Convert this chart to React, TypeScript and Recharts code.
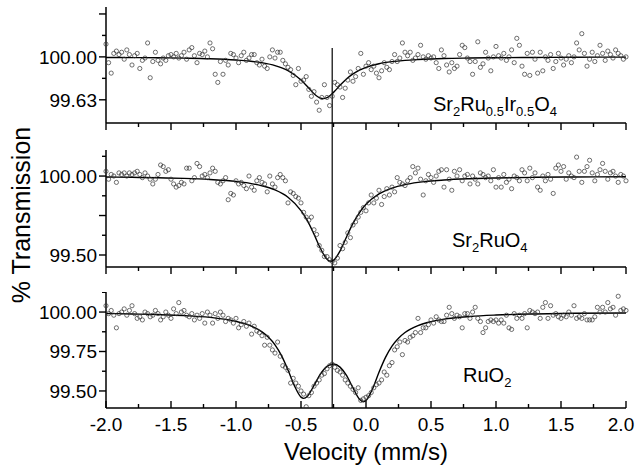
import { ComposedChart, Line, ReferenceLine, Scatter, XAxis, YAxis } from "recharts";

// velocity channels: -2.00 .. 2.00 mm/s, 0.02 mm/s apart
const channelStart = -2;
const channelStep = 0.02;

const velocityTicks = [-2, -1.75, -1.5, -1.25, -1, -0.75, -0.5, -0.25, 0, 0.25, 0.5, 0.75, 1, 1.25, 1.5, 1.75, 2];
const isomerShift = -0.26;

// Sr2Ru0.5Ir0.5O4
const ruIrPoints = [
  100.11, 99.95, 99.86, 100.03, 100.05, 100.02, 100.04, 99.98, 100.06, 100.02,
  99.93, 100.01, 100.03, 99.90, 99.97, 99.99, 100.12, 99.82, 99.96, 100.04,
  99.97, 99.94, 99.99, 99.97, 100.01, 100.02, 100.00, 100.03, 99.99, 100.01,
  100.04, 99.98, 100.06, 100.08, 100.01, 99.95, 100.03, 100.02, 100.05, 100.00,
  100.12, 100.07, 99.85, 99.78, 99.96, 99.85, 99.97, 99.93, 100.03, 100.02,
  99.99, 99.95, 100.01, 100.04, 99.97, 99.99, 100.02, 100.02, 99.95, 99.93,
  99.98, 99.92, 99.90, 100.00, 100.06, 99.99, 100.04, 100.04, 99.97, 99.94,
  99.91, 99.89, 99.84, 99.76, 99.90, 99.79, 99.80, 99.83, 99.72, 99.66,
  99.70, 99.61, 99.54, 99.65, 99.76, 99.65, 99.58, 99.66, 99.78, 99.76,
  99.74, 99.65, 99.73, 99.80, 99.87, 99.79, 99.83, 99.90, 100.03, 99.85,
  99.92, 99.95, 99.89, 99.92, 99.86, 99.82, 99.88, 99.95, 99.91, 99.89,
  99.96, 100.02, 99.96, 99.99, 100.12, 100.04, 100.01, 100.04, 99.97, 99.99,
  100.02, 100.10, 100.00, 99.98, 100.01, 99.99, 100.00, 99.95, 99.90, 100.06,
  100.01, 99.93, 99.87, 99.95, 99.90, 99.92, 100.02, 100.10, 100.08, 99.99,
  99.96, 99.85, 99.96, 100.13, 99.91, 99.94, 100.04, 99.99, 99.88, 100.00,
  100.09, 100.01, 99.99, 100.03, 99.97, 100.00, 100.06, 99.95, 100.16, 100.10,
  99.92, 99.85, 100.03, 99.84, 100.04, 99.98, 99.86, 100.04, 99.88, 100.00,
  99.97, 100.02, 99.90, 99.96, 100.03, 99.99, 99.93, 99.98, 100.01, 99.95,
  100.00, 100.12, 100.06, 100.20, 100.03, 99.92, 99.98, 100.04, 99.96, 100.01,
  100.10, 100.03, 99.97, 100.05, 100.02, 99.99, 100.06, 100.03, 100.01, 99.98,
  100.00,
];
const ruIrFitV = [-2, -1.8, -1.6, -1.4, -1.2, -1, -0.9, -0.8, -0.7, -0.6, -0.5, -0.45, -0.4, -0.35, -0.33, -0.3, -0.25, -0.2, -0.15, -0.1, -0.05, 0, 0.1, 0.2, 0.3, 0.4, 0.6, 0.8, 1, 1.3, 1.6, 2];
const ruIrFitT = [99.995, 99.994, 99.992, 99.989, 99.984, 99.973, 99.964, 99.949, 99.925, 99.881, 99.8, 99.743, 99.683, 99.644, 99.64, 99.649, 99.694, 99.755, 99.81, 99.854, 99.886, 99.91, 99.941, 99.959, 99.97, 99.977, 99.986, 99.99, 99.993, 99.995, 99.997, 99.998];

// Sr2RuO4
const sr2RuPoints = [
  100.03, 99.98, 100.01, 100.00, 99.96, 100.02, 100.01, 100.02, 100.00, 100.02,
  100.01, 100.02, 100.03, 100.01, 99.99, 100.02, 100.00, 99.98, 99.95, 99.98,
  100.01, 100.07, 100.06, 100.03, 100.04, 99.98, 99.95, 99.93, 99.94, 99.96,
  99.95, 100.05, 100.05, 99.97, 99.99, 100.08, 100.06, 100.00, 100.01, 99.99,
  100.02, 100.05, 100.03, 99.96, 99.95, 99.97, 99.99, 99.85, 99.89, 99.88,
  99.97, 99.95, 99.96, 99.94, 99.92, 100.00, 99.93, 99.91, 99.97, 99.99,
  99.96, 99.95, 99.90, 100.00, 99.95, 99.93, 99.99, 100.01, 99.99, 99.97,
  99.83, 99.90, 99.89, 99.87, 99.86, 99.83, 99.77, 99.74, 99.72, 99.74,
  99.66, 99.63, 99.56, 99.53, 99.49, 99.49, 99.47, 99.46, 99.45, 99.48,
  99.56, 99.54, 99.58, 99.64, 99.61, 99.69, 99.71, 99.74, 99.77, 99.80,
  99.78, 99.83, 99.88, 99.83, 99.86, 99.91, 99.82, 99.87, 99.92, 99.88,
  99.93, 99.90, 99.99, 99.96, 99.95, 99.94, 99.97, 99.99, 100.06, 100.02,
  100.05, 99.98, 99.88, 99.97, 100.01, 99.99, 99.96, 100.00, 100.03, 100.04,
  99.93, 100.04, 99.98, 99.91, 100.03, 100.00, 100.04, 99.97, 100.00, 100.01,
  99.95, 100.00, 99.98, 99.95, 100.02, 100.01, 99.99, 100.00, 99.97, 100.04,
  99.93, 99.99, 99.93, 100.01, 99.96, 99.98, 99.92, 100.00, 99.99, 99.97,
  100.04, 100.02, 99.97, 100.05, 99.99, 100.02, 99.93, 99.91, 100.00, 99.97,
  100.01, 99.98, 99.89, 100.05, 100.07, 100.03, 100.06, 99.98, 100.02, 100.00,
  99.99, 100.12, 100.03, 99.96, 100.03, 100.06, 100.10, 100.02, 99.97, 100.01,
  100.04, 100.08, 100.03, 99.98, 100.02, 100.03, 100.00, 99.96, 100.01, 100.00,
  99.97,
];
const sr2RuFitV = [-2, -1.8, -1.6, -1.4, -1.2, -1, -0.9, -0.8, -0.7, -0.6, -0.5, -0.45, -0.4, -0.35, -0.3, -0.27, -0.25, -0.2, -0.15, -0.1, -0.05, 0, 0.1, 0.2, 0.3, 0.4, 0.6, 0.8, 1, 1.3, 1.6, 2];
const sr2RuFitT = [99.994, 99.992, 99.989, 99.985, 99.978, 99.966, 99.955, 99.938, 99.912, 99.866, 99.781, 99.716, 99.632, 99.541, 99.473, 99.46, 99.466, 99.525, 99.614, 99.7, 99.769, 99.821, 99.887, 99.924, 99.946, 99.96, 99.975, 99.983, 99.988, 99.992, 99.994, 99.996];

// RuO2
const ruO2Points = [
  100.04, 99.99, 100.01, 99.98, 99.90, 99.99, 100.00, 100.02, 99.98, 100.01,
  100.04, 99.99, 99.96, 99.97, 99.95, 100.00, 99.99, 99.97, 99.98, 100.01,
  99.99, 99.95, 99.97, 100.00, 99.98, 99.96, 100.02, 99.99, 100.06, 100.00,
  100.01, 99.98, 99.97, 99.99, 99.95, 99.98, 99.96, 99.99, 99.93, 100.00,
  99.98, 99.93, 99.99, 99.96, 100.00, 99.98, 99.94, 99.96, 99.95, 99.93,
  99.96, 99.90, 99.92, 99.94, 99.91, 99.93, 99.86, 99.91, 99.88, 99.87,
  99.85, 99.79, 99.84, 99.79, 99.76, 99.74, 99.81, 99.72, 99.66, 99.65,
  99.63, 99.55, 99.58, 99.55, 99.53, 99.50, 99.48, 99.40, 99.47, 99.49,
  99.53, 99.55, 99.57, 99.60, 99.61, 99.64, 99.66, 99.67, 99.65, 99.63,
  99.62, 99.60, 99.57, 99.55, 99.53, 99.51, 99.49, 99.52, 99.44, 99.45,
  99.46, 99.47, 99.49, 99.52, 99.54, 99.55, 99.57, 99.62, 99.60, 99.66,
  99.68, 99.76, 99.78, 99.81, 99.73, 99.82, 99.81, 99.84, 99.85, 99.87,
  99.96, 99.87, 99.90, 99.90, 99.92, 99.95, 99.93, 99.97, 99.95, 99.94,
  99.94, 99.98, 100.03, 99.99, 99.96, 99.98, 99.97, 99.90, 99.99, 99.99,
  99.96, 100.00, 100.03, 99.96, 99.94, 99.87, 99.90, 99.94, 99.95, 99.94,
  99.95, 99.93, 99.95, 99.93, 99.98, 99.90, 99.89, 99.99, 99.96, 99.98,
  99.96, 99.99, 99.90, 100.01, 100.00, 99.99, 100.00, 99.96, 100.03, 100.06,
  99.96, 100.04, 99.98, 99.99, 99.97, 99.96, 99.98, 99.97, 100.00, 99.98,
  100.04, 99.96, 99.97, 99.96, 99.99, 99.95, 99.95, 99.95, 99.97, 100.03,
  100.00, 100.03, 100.00, 100.06, 100.02, 100.03, 99.98, 100.10, 100.01, 100.02,
  100.01,
];
const ruO2FitV = [-2, -1.8, -1.6, -1.4, -1.2, -1, -0.9, -0.8, -0.75, -0.7, -0.65, -0.6, -0.55, -0.5, -0.48, -0.45, -0.4, -0.35, -0.3, -0.25, -0.2, -0.15, -0.1, -0.05, -0.02, 0, 0.05, 0.1, 0.15, 0.2, 0.25, 0.3, 0.4, 0.5, 0.6, 0.8, 1, 1.3, 1.6, 2];
const ruO2FitT = [99.991, 99.988, 99.984, 99.978, 99.966, 99.941, 99.917, 99.874, 99.84, 99.792, 99.724, 99.633, 99.532, 99.461, 99.453, 99.467, 99.535, 99.608, 99.656, 99.671, 99.651, 99.598, 99.519, 99.447, 99.431, 99.439, 99.513, 99.619, 99.713, 99.784, 99.834, 99.87, 99.914, 99.939, 99.955, 99.972, 99.981, 99.988, 99.992, 99.994];

const font = "'Liberation Sans', Arial, Helvetica, sans-serif";
const isMajor = (v: number) => Math.abs(v * 2 - Math.round(v * 2)) < 1e-6;

const toPoints = (arr: number[]) => arr.map((t, i) => ({ v: +(channelStart + i * channelStep).toFixed(2), t }));
const toFit = (vs: number[], ts: number[]) => vs.map((v, i) => ({ v, t: ts[i] }));

function VelocityTick({ x, y, payload, inward, labels }: any) {
  const major = isMajor(payload.value);
  const len = major ? 7 : 4;
  // keep the last label inside the picture
  const lx = Math.min(x, 621);
  return (
    <g>
      <line x1={x} x2={x} y1={y} y2={inward ? y - len : y + len} stroke="#000" strokeWidth={1.4} />
      {labels && major && (
        <text x={lx} y={y + 23} textAnchor="middle" fontSize={19} fontFamily={font} fill="#000">
          {payload.value.toFixed(1)}
        </text>
      )}
    </g>
  );
}

function TransTick({ x, y, payload, majors, labels }: any) {
  const v = payload.value;
  const len = majors.includes(v) ? 7 : 4;
  return (
    <g>
      <line x1={x} x2={x - len} y1={y} y2={y} stroke="#000" strokeWidth={1.4} />
      {labels.includes(v) && (
        <text x={x - 9} y={y + 7} textAnchor="end" fontSize={19} fontFamily={font} fill="#000">
          {v.toFixed(2)}
        </text>
      )}
    </g>
  );
}

const dot = (p: any) => <circle cx={p.cx} cy={p.cy} r={2.1} fill="none" stroke="#333" strokeWidth={0.7} />;

function Panel({ top, height, xHeight, marginTop, domain, ticks, majors, labels, points, fit, segment, bottom }: any) {
  return (
    <div style={{ position: "absolute", left: 0, top }}>
      <ComposedChart width={635} height={height} margin={{ top: marginTop, right: 9, bottom: 0, left: 0 }}>
        <XAxis
          dataKey="v"
          type="number"
          domain={[-2, 2]}
          ticks={velocityTicks}
          interval={0}
          height={xHeight}
          tickSize={0}
          tickMargin={0}
          tickLine={false}
          axisLine={{ stroke: "#000", strokeWidth: 1.5 }}
          tick={(p: any) => <VelocityTick {...p} inward={bottom} labels={bottom} />}
        />
        <YAxis
          dataKey="t"
          type="number"
          domain={domain}
          allowDataOverflow
          ticks={ticks}
          interval={0}
          width={106}
          tickSize={0}
          tickMargin={0}
          tickLine={false}
          axisLine={{ stroke: "#000", strokeWidth: 1.5 }}
          tick={(p: any) => <TransTick {...p} majors={majors} labels={labels} />}
        />
        <ReferenceLine
          segment={[{ x: isomerShift, y: segment[0] }, { x: isomerShift, y: segment[1] }]}
          stroke="#000"
          strokeWidth={1.2}
          ifOverflow="visible"
        />
        <Scatter data={points} dataKey="t" shape={dot} isAnimationActive={false} />
        <Line data={fit} dataKey="t" type="monotone" stroke="#000" strokeWidth={1.4} dot={false} isAnimationActive={false} />
      </ComposedChart>
    </div>
  );
}

const sub = (s: string) => <span style={{ fontSize: 13, position: "relative", top: 5 }}>{s}</span>;
const labelStyle = (left: number, top: number): any => ({ position: "absolute", left, top, fontSize: 20, lineHeight: "20px", fontFamily: font, color: "#000", whiteSpace: "nowrap" });

export default function App() {
  return (
    <div style={{ position: "absolute", left: 0, top: 0, width: 635, height: 474, background: "#fff", fontFamily: font }}>
      <Panel
        top={0} height={150} xHeight={27} marginTop={7}
        domain={[99.43, 100.43]}
        ticks={[99.63, 99.815, 100, 100.185, 100.37]}
        majors={[99.63, 100, 100.37]}
        labels={[99.63, 100]}
        points={toPoints(ruIrPoints)}
        fit={toFit(ruIrFitV, ruIrFitT)}
        segment={[100.077, 99.197]}
      />
      <Panel
        top={150} height={142} xHeight={25} marginTop={0}
        domain={[99.424, 100.165]}
        ticks={[99.5, 99.625, 99.75, 99.875, 100, 100.125]}
        majors={[99.5, 99.75, 100]}
        labels={[99.5, 100]}
        points={toPoints(sr2RuPoints)}
        fit={toFit(sr2RuFitV, sr2RuFitT)}
        segment={[100.165, 99.266]}
      />
      <Panel
        top={292} height={182} xHeight={66} marginTop={0}
        domain={[99.392, 100.127]}
        ticks={[99.5, 99.625, 99.75, 99.875, 100, 100.125]}
        majors={[99.5, 99.75, 100]}
        labels={[99.5, 99.75, 100]}
        points={toPoints(ruO2Points)}
        fit={toFit(ruO2FitV, ruO2FitT)}
        segment={[100.127, 99.392]}
        bottom
      />
      <div style={labelStyle(433, 94)}>Sr{sub("2")}Ru{sub("0.5")}Ir{sub("0.5")}O{sub("4")}</div>
      <div style={labelStyle(452, 230)}>Sr{sub("2")}RuO{sub("4")}</div>
      <div style={labelStyle(463, 365)}>RuO{sub("2")}</div>
      <div style={{ position: "absolute", left: 106, width: 520, top: 440, textAlign: "center", fontSize: 24, lineHeight: "24px" }}>
        Velocity (mm/s)
      </div>
      <div
        style={{
          position: "absolute", left: -79, top: 202, width: 200, height: 26, lineHeight: "26px",
          textAlign: "center", fontSize: 25, transform: "rotate(-90deg)", whiteSpace: "nowrap",
        }}
      >
        % Transmission
      </div>
    </div>
  );
}
